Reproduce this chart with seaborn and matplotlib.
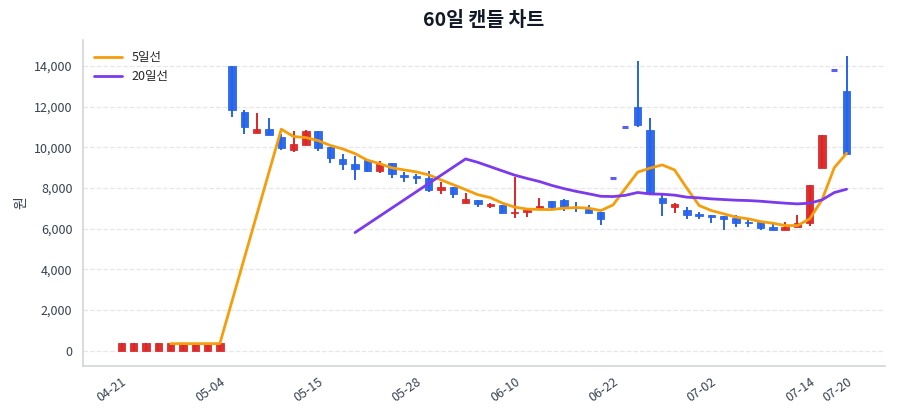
import numpy as np
import pandas as pd
import matplotlib
matplotlib.use('Agg')
import matplotlib.pyplot as plt
import seaborn as sns

nan = np.nan

# candle data (60 trading days, index based)
opens = [0, 0, 0, 0, 0, 0, 0, 0, 0,
         14000, 11750, 10720, 10900, 10530, 9880, 10100, 10790, 10000, 9430, 9190,
         9380, 8860, 9220, 8630, 8590, 8510, 7910, 8040, 7270, 7420,
         7100, 7160, 6780, 6800, 6960, 7340, 7390, 7060, 6980, 6800,
         8470, 11000, 12000, 10860, 7500, 7090, 6930, 6720, 6650, 6600,
         6520, 6350, 6320, 6080, 5950, 6060, 6270, 8980, 13800, 12770]
closes = [380, 380, 380, 380, 380, 380, 380, 380, 380,
          11850, 11000, 10900, 10620, 9960, 10150, 10790, 9990, 9470, 9170, 8940,
          8860, 9170, 8690, 8550, 8510, 7910, 8040, 7710, 7450, 7190,
          7190, 6770, 6840, 6930, 7120, 7060, 7060, 7010, 6760, 6490,
          8470, 11000, 11100, 7750, 7250, 7190, 6650, 6630, 6570, 6470,
          6300, 6290, 6030, 5950, 6060, 6270, 8150, 10610, 13800, 9680]
highs = [380, 380, 380, 380, 380, 380, 380, 380, 380,
         14000, 11820, 11700, 11430, 10650, 10790, 10870, 10800, 10010, 9680, 9580,
         9430, 9320, 9250, 8810, 8680, 8860, 8290, 8070, 7750, 7420,
         7240, 7180, 8530, 6950, 7500, 7340, 7450, 7300, 7170, 6800,
         8470, 11000, 14250, 11460, 7750, 7250, 7060, 6810, 6660, 6610,
         6650, 6430, 6400, 6350, 6320, 6680, 8150, 10610, 13800, 14490]
lows = [0, 0, 0, 0, 0, 0, 0, 0, 0,
        11500, 10650, 10720, 10600, 9870, 9760, 10100, 9840, 9250, 8890, 8400,
        8780, 8760, 8480, 8290, 8190, 7800, 7700, 7530, 7270, 7090,
        7010, 6770, 6520, 6570, 6960, 6930, 6890, 6830, 6760, 6160,
        8470, 11000, 11020, 7750, 6600, 6770, 6470, 6470, 6270, 5945,
        6100, 6100, 5945, 5945, 5945, 6060, 6140, 8980, 13800, 9680]

ma5 = [nan, nan, nan, nan, 350, 350, 350, 350, 350,
       nan, nan, nan, nan, 10890, 10530, 10480, 10330, 10090, 9920, 9690,
       9370, 9200, 8990, 8890, 8790, 8645, 8400, 8160, 7920, 7670,
       7530, 7255, 7060, 6965, 6945, 6940, 7010, 7040, 7010, 6890,
       7170, 7980, 8780, 8975, 9136, 8890, 7990, 7140, 6890, 6730,
       6570, 6485, 6350, 6270, 6155, 6155, 6485, 7420, 9000, 9710]
ma20 = [nan] * 19 + [5810] + [nan] * 8 + [
        9430, 9260, 9050, 8840, 8630, 8470, 8320, 8130, 7970, 7835,
        7717, 7594, 7580, 7640, 7780, 7710, 7695, 7650, 7550, 7515,
        7466, 7433, 7400, 7384, 7350, 7300, 7255, 7220, 7255, 7417,
        7777, 7940]

tick_idx = [0, 8, 16, 24, 32, 40, 48, 56, 59]
tick_labels = ['04-21', '05-04', '05-15', '05-28', '06-10', '06-22', '07-02', '07-14', '07-20']

RED = '#dc2626'
BLUE = '#2563eb'
DOJI = '#5b5ff0'
ORANGE = '#f59e0b'
PURPLE = '#7c3aed'

sns.set_theme(style='white')
plt.rcParams['font.family'] = ['Noto Sans CJK KR', 'DejaVu Sans']

df = pd.DataFrame({'open': opens, 'close': closes, 'high': highs, 'low': lows,
                   'ma5': ma5, 'ma20': ma20})
df['idx'] = np.arange(len(df))

fig = plt.figure(figsize=(9, 4.2), dpi=100)
ax = fig.add_axes([0.092, 0.129, 0.891, 0.776])

# candles
for _, r in df.iterrows():
    o, c = r['open'], r['close']
    if o == c:
        ax.hlines(o, r['idx'] - 0.25, r['idx'] + 0.25, color=DOJI, lw=2.2, zorder=3)
        continue
    col = RED if c > o else BLUE
    ax.vlines(r['idx'], r['low'], r['high'], color=col, lw=1.4, zorder=2)
    ax.bar(r['idx'], abs(c - o), bottom=min(o, c), width=0.6, color=col,
           edgecolor=col, linewidth=0.6, alpha=0.95, zorder=3)

# moving averages (gaps connected)
m5 = df[['idx', 'ma5']].dropna()
m20 = df[['idx', 'ma20']].dropna()
sns.lineplot(data=m5, x='idx', y='ma5', color=ORANGE, lw=2, label='5일선', ax=ax, zorder=4)
sns.lineplot(data=m20, x='idx', y='ma20', color=PURPLE, lw=2, label='20일선', ax=ax, zorder=4)

ax.set_xlim(-3.15, 62.1)
ax.set_ylim(-740, 15280)
ax.set_yticks(range(0, 14001, 2000))
ax.yaxis.set_major_formatter(matplotlib.ticker.FuncFormatter(lambda v, p: f'{int(v):,}'))
ax.set_xticks(tick_idx)
ax.set_xticklabels(tick_labels, rotation=35, ha='right', rotation_mode='anchor')
ax.tick_params(axis='x', length=4, color='#9ca3af', labelsize=9, labelcolor='#374151', pad=3)
ax.tick_params(axis='y', length=4, color='#9ca3af', labelsize=9, labelcolor='#374151')
ax.grid(axis='y', linestyle='--', color='#e5e7eb', lw=0.9)
for s in ['top', 'right']:
    ax.spines[s].set_visible(False)
for s in ['left', 'bottom']:
    ax.spines[s].set_color('#d1d5db')
    ax.spines[s].set_linewidth(1.2)

ax.set_xlabel('')
ax.set_ylabel('원', fontsize=10, color='#374151')
ax.set_title('60일 캔들 차트', fontsize=14, fontweight='bold', color='#111827', pad=10)
ax.legend(loc='upper left', frameon=False, fontsize=9, handlelength=2.2)

fig.savefig('out.png', dpi=100)
